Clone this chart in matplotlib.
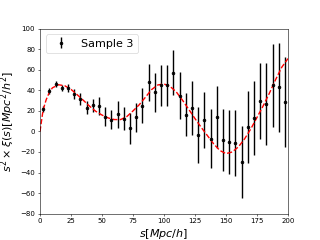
import numpy as np
import matplotlib
matplotlib.use("Agg")
import matplotlib.pyplot as plt

# measured correlation function (bin centres, s^2 xi, errors)
s_bins = np.arange(2.5, 200, 5.0)
xi_s2 = [22, 39.5, 46.5, 42, 42, 36.4, 31.5, 23.3, 25.6, 24.7,
         14.5, 11.5, 16.8, 12.5, 3, 13.9, 25.2, 47.8, 38.4, 44.8,
         45, 57.2, 35, 16.1, 22.7, -3.4, 11.1, -7, 13.9, -8.6,
         -10.3, -11.3, -29.5, 4.7, 13.2, 29.8, 26.9, 44.8, 42.9, 28.6]
xi_err = [3, 3, 3, 3, 4, 5, 5.5, 6.5, 6.5, 9,
          9, 9, 13, 11, 15, 14, 17, 18, 19, 20,
          20, 22, 23, 21, 26, 27, 27, 29, 30, 30,
          31, 32, 35, 35, 36, 37, 40, 40, 43, 44]

# best-fit model curve
s_model = [0, 2.5, 5, 7.5, 10, 15, 20, 25, 30, 35, 40, 45, 50, 55, 60, 65,
           70, 75, 80, 85, 90, 95, 100, 105, 110, 115, 120, 125, 130, 135,
           140, 145, 150, 155, 160, 165, 170, 175, 180, 185, 190, 195, 200]
xi_model = [0, 21, 31, 38, 42.5, 45.5, 44.5, 41, 35.8, 30.3, 24.6, 19.6,
            16, 13.2, 11.6, 11.6, 14.5, 20, 26, 33.3, 40.8, 45.3, 46.3,
            43.8, 38.4, 30.3, 21.5, 12.5, 4, -4, -12, -18.5, -21.6, -20,
            -15, -7.2, 2.5, 13.7, 25, 37.3, 50.5, 62.6, 71]

fig, ax = plt.subplots(figsize=(6.4, 4.8), dpi=50)
ax.errorbar(s_bins, xi_s2, yerr=xi_err, fmt='o', color='black',
            markersize=4, elinewidth=2, label='Sample 3')
ax.plot(s_model, xi_model, '--', color='red', linewidth=2)
ax.set_xlim(0, 200)
ax.set_ylim(-80, 100)
ax.set_xlabel(r'$s[Mpc/h]$', fontsize=16)
ax.set_ylabel(r'$s^2 \times \xi(s)[Mpc^2/h^2]$', fontsize=16)
ax.legend(loc='upper left', fontsize=16)
fig.savefig('out.png', dpi=50)
